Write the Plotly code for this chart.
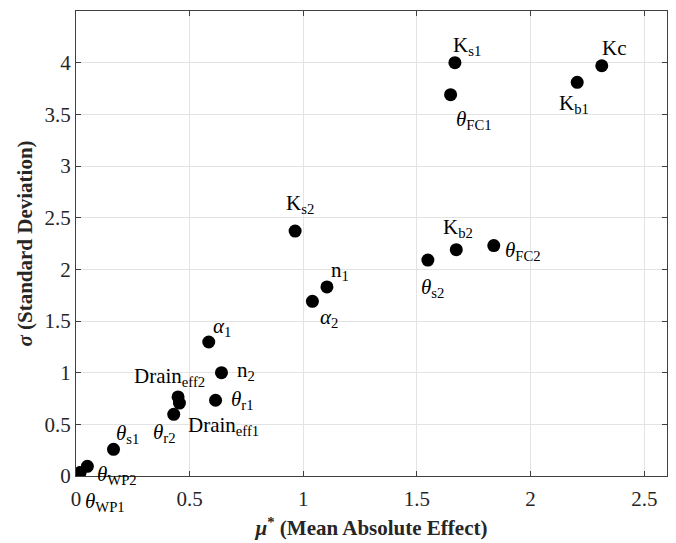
import plotly.graph_objects as go

# Data
params = ["Ks1", "Kc", "Kb1", "thetaFC1", "Kb2", "thetaFC2", "thetas2", "Ks2",
          "n1", "alpha2", "alpha1", "n2", "Draineff2", "thetar1", "Draineff1",
          "thetar2", "thetas1", "thetaWP2", "thetaWP1"]
mu_star = [1.667, 2.313, 2.205, 1.648, 1.673, 1.838, 1.548, 0.964,
           1.104, 1.040, 0.584, 0.640, 0.449, 0.614, 0.455,
           0.430, 0.165, 0.050, 0.018]
sigma = [4.00, 3.97, 3.81, 3.69, 2.19, 2.23, 2.09, 2.37,
         1.83, 1.69, 1.297, 1.00, 0.765, 0.733, 0.706,
         0.597, 0.258, 0.094, 0.033]
labels = ["K<sub>s1</sub>", "Kc", "K<sub>b1</sub>", "<i>θ</i><sub>FC1</sub>",
          "K<sub>b2</sub>", "<i>θ</i><sub>FC2</sub>", "<i>θ</i><sub>s2</sub>",
          "K<sub>s2</sub>", "n<sub>1</sub>", "<i>α</i><sub>2</sub>",
          "<i>α</i><sub>1</sub>", "n<sub>2</sub>", "Drain<sub>eff2</sub>",
          "<i>θ</i><sub>r1</sub>", "Drain<sub>eff1</sub>", "<i>θ</i><sub>r2</sub>",
          "<i>θ</i><sub>s1</sub>", "<i>θ</i><sub>WP2</sub>", "<i>θ</i><sub>WP1</sub>"]
x_ticks = [0, 0.5, 1, 1.5, 2, 2.5]
y_ticks = [0, 0.5, 1, 1.5, 2, 2.5, 3, 3.5, 4]

# Label placement (anchor, dx, dy in screen px; dy positive = down)
label_style = {
    "Ks1": ("left", -4, -17), "Kc": ("left", -2, -18), "Kb1": ("left", -20, 22),
    "thetaFC1": ("left", 3, 25), "Kb2": ("left", -15, -22), "thetaFC2": ("left", 9, 5),
    "thetas2": ("left", -9, 28), "Ks2": ("left", -11, -27), "n1": ("left", 2, -16),
    "alpha2": ("left", 6, 17), "alpha1": ("left", 2, -15), "n2": ("left", 14, -2),
    "Draineff2": ("right", 29, -20), "thetar1": ("left", 13, 0), "Draineff1": ("left", 7, 23),
    "thetar2": ("left", -23, 19), "thetas1": ("left", 0, -15), "thetaWP2": ("left", 8, 9),
    "thetaWP1": ("left", 3, 29),
}

FONT = "Liberation Serif"

fig = go.Figure()
fig.add_trace(go.Scatter(
    x=mu_star, y=sigma, mode="markers",
    marker=dict(color="black", size=13, line=dict(width=0)),
    hoverinfo="skip", showlegend=False,
))

for p, xv, yv, lab in zip(params, mu_star, sigma, labels):
    anc, dx, dy = label_style[p]
    fig.add_annotation(x=xv, y=yv, xref="x", yref="y", text=lab, showarrow=False,
                       xanchor=anc, yanchor="middle", xshift=dx, yshift=-dy,
                       font=dict(family=FONT, size=21, color="black"))

axis_common = dict(
    showline=True, linecolor="#404040", linewidth=1, mirror="ticks",
    ticks="inside", ticklen=5, tickcolor="#404040",
    showgrid=True, gridcolor="#e3e3e3", gridwidth=1, zeroline=False,
    tickfont=dict(family=FONT, size=21, color="#262626"),
    automargin=False,
)

fig.update_xaxes(range=[0, 2.6], tickvals=x_ticks, ticktext=[f"{t:g}" for t in x_ticks],
                 ticklabelstandoff=4,
                 title=dict(text="<b><i>μ</i><sup>*</sup> (Mean Absolute Effect)</b>",
                            font=dict(family=FONT, size=21, color="#262626"), standoff=10),
                 **axis_common)
fig.update_yaxes(range=[0, 4.5], tickvals=y_ticks, ticktext=[f"{t:g}" for t in y_ticks],
                 title=dict(text="<b><i>σ</i> (Standard Deviation)</b>",
                            font=dict(family=FONT, size=21, color="#262626"), standoff=6),
                 **axis_common)

fig.update_layout(
    width=676, height=543, autosize=False,
    margin=dict(l=76, r=9, t=11, b=67),
    paper_bgcolor="white", plot_bgcolor="white",
    font=dict(family=FONT),
)

fig.write_html("out.html")
